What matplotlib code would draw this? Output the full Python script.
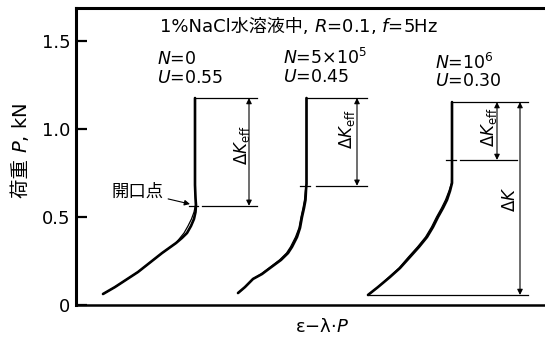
import matplotlib
matplotlib.use("Agg")
import matplotlib.pyplot as plt
from matplotlib.transforms import IdentityTransform

plt.rcParams['font.family'] = ['DejaVu Sans', 'Noto Sans CJK JP']
plt.rcParams['mathtext.fontset'] = 'dejavusans'

# Load P (kN) versus compliance-offset strain (arbitrary units) for three fatigue stages
cycles_labels = [r'$N$=0', r'$N$=5×10$^{5}$', r'$N$=10$^{6}$']
u_values = [0.55, 0.45, 0.30]
u_labels = ['0.55', '0.45', '0.30']

# N = 0 : loading and unloading traces
p_n0 = [0.0625, 0.102, 0.1875, 0.295, 0.352, 0.381, 0.409, 0.449, 0.489,
        0.528, 0.568, 0.608, 0.682, 0.824, 0.994, 1.176]
x_n0_load = [27, 39, 62, 86, 100, 106, 111, 115, 118,
             119.5, 120, 119.5, 119, 119, 119, 119]
x_n0_unload = [27, 39, 62, 86, 100, 104, 108, 112, 115.5,
               118, 119.5, 119.5, 119, 119, 119, 119]

# N = 5x10^5
p_n5 = [0.068, 0.102, 0.148, 0.176, 0.210, 0.256, 0.295, 0.33, 0.386,
        0.438, 0.50, 0.551, 0.597, 0.653, 0.6875, 0.9375, 1.176]
x_n5_load = [162, 169, 177, 186, 194, 205, 212, 216, 221,
             224, 226, 228, 229.5, 230, 230.5, 230.5, 230.5]
x_n5_unload = [162, 169, 177, 185, 193, 203.5, 210.5, 214.5, 219.5,
               223, 225, 227, 228.5, 229.5, 230.5, 230.5, 230.5]

# N = 10^6
p_n6 = [0.057, 0.102, 0.159, 0.210, 0.273, 0.330, 0.386, 0.443, 0.50,
        0.551, 0.597, 0.648, 0.693, 0.835, 1.153]
x_n6_load = [292, 302, 314, 324, 334, 343, 351, 357, 362,
             367, 371, 374, 376, 376, 376]
x_n6_unload = [292, 302, 313, 323, 332.5, 341.5, 349.5, 355.5, 360.5,
               365.5, 369.5, 373, 375.5, 376, 376]

p_max = [1.176, 1.176, 1.153]
p_min = [0.0625, 0.068, 0.057]

fig = plt.figure(figsize=(5.45, 3.4), dpi=100)
ax = fig.add_axes([76 / 545, 35 / 340, 1 - 76 / 545, (305 - 8) / 340])
ax.set_xlim(0, 469)
ax.set_ylim(0, 1.6875)

for xl, xu, p in [(x_n0_load, x_n0_unload, p_n0),
                  (x_n5_load, x_n5_unload, p_n5),
                  (x_n6_load, x_n6_unload, p_n6)]:
    ax.plot(xl, p, color='black', lw=1.9, solid_capstyle='round',
            solid_joinstyle='round')
    ax.plot(xu, p, color='black', lw=0.9, solid_joinstyle='round')

# Opening load from U = (Pmax - Pop) / (Pmax - Pmin)
p_open = [pm - u * (pm - pn) for pm, pn, u in zip(p_max, p_min, u_values)]

lw_thin = 0.9
arrow_kw = dict(arrowstyle='<|-|>', color='black', lw=0.8, mutation_scale=8,
                shrinkA=0, shrinkB=0)
keff = r'$\Delta K_{\rm eff}$'

# N = 0 bracket
ax.plot([120, 181], [p_max[0]] * 2, color='black', lw=lw_thin)
ax.plot([113, 122], [p_open[0]] * 2, color='black', lw=lw_thin)
ax.plot([126, 181], [p_open[0]] * 2, color='black', lw=lw_thin)
ax.annotate('', xy=(173, p_max[0]), xytext=(173, p_open[0]), arrowprops=arrow_kw)
ax.text(166, 0.91, keff, rotation=90, ha='center', va='center', fontsize=12)

# N = 5x10^5 bracket
ax.plot([230, 291], [p_max[1]] * 2, color='black', lw=lw_thin)
ax.plot([224, 234], [p_open[1]] * 2, color='black', lw=lw_thin)
ax.plot([240, 291], [p_open[1]] * 2, color='black', lw=lw_thin)
ax.annotate('', xy=(281, p_max[1]), xytext=(281, p_open[1]), arrowprops=arrow_kw)
ax.text(271, 1.0, keff, rotation=90, ha='center', va='center', fontsize=12)

# N = 10^6 brackets
ax.plot([377, 452], [p_max[2]] * 2, color='black', lw=lw_thin)
ax.plot([370, 380], [p_open[2]] * 2, color='black', lw=lw_thin)
ax.plot([384, 441], [p_open[2]] * 2, color='black', lw=lw_thin)
ax.plot([292, 452], [p_min[2]] * 2, color='black', lw=lw_thin)
ax.annotate('', xy=(421, p_max[2]), xytext=(421, p_open[2]), arrowprops=arrow_kw)
ax.annotate('', xy=(444, p_max[2]), xytext=(444, p_min[2]), arrowprops=arrow_kw)
ax.text(413, 1.01, keff, rotation=90, ha='center', va='center', fontsize=12)
ax.text(434, 0.60, r'$\Delta K$', rotation=90, ha='center', va='center', fontsize=12)

# Opening point callout
ax.annotate('開口点', xy=(114, p_open[0] + 0.01), xytext=(88, 0.643),
            ha='right', va='center', fontsize=12.5,
            arrowprops=dict(arrowstyle='-|>', color='black', lw=0.8,
                            mutation_scale=8, shrinkA=1, shrinkB=0))

# Stage labels
label_x = [81, 207, 359]
label_y = [1.40, 1.405, 1.378]
for lx, ly, nl, ul in zip(label_x, label_y, cycles_labels, u_labels):
    ax.text(lx, ly, nl, ha='left', va='center', fontsize=12.5)
    ax.text(lx, ly - 0.108, '$U$=' + ul, ha='left', va='center', fontsize=12.5)


def text_run(parts, x, y, rotation=0, fontsize=12):
    """Place plain and math text pieces one after another, sharing a baseline
    (pixel coordinates from the lower-left corner of the figure)."""
    renderer = fig.canvas.get_renderer()
    for s in parts:
        t = fig.text(x, y, s, transform=IdentityTransform(), rotation=rotation,
                     rotation_mode='anchor', ha='left', va='baseline',
                     fontsize=fontsize)
        ext = t.get_window_extent(renderer)
        if rotation == 90:
            y += ext.height
        else:
            x += ext.width


# Test conditions (CJK kept outside mathtext so the glyph fallback works)
text_run(['1%NaCl水溶液中, ', '$R$=0.1, $f$=5Hz'], 160, 308, fontsize=13)

# Axis labels
ax.set_xticks([])
text_run(['荷重 ', '$P$, kN'], 27, 142, rotation=90, fontsize=14)
fig.text(322 / 545, 1 - 327 / 340, 'ε−λ·$P$', ha='center', va='center', fontsize=13)

# Axes styling
ax.spines['right'].set_visible(False)
ax.spines['left'].set_linewidth(2.2)
ax.spines['top'].set_linewidth(2.2)
ax.spines['bottom'].set_linewidth(1.8)
ax.set_yticks([0, 0.5, 1.0, 1.5])
ax.set_yticklabels(['0', '0.5', '1.0', '1.5'])
ax.tick_params(axis='y', direction='in', length=8, width=1.6, labelsize=13, pad=4)

fig.savefig('out.png', dpi=100)
